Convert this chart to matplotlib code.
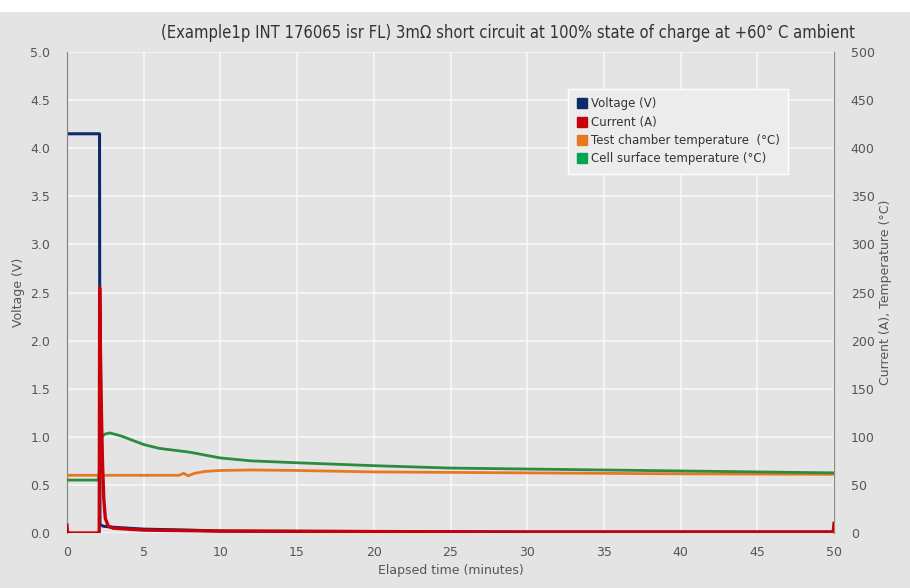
import matplotlib
matplotlib.use("Agg")
import matplotlib.pyplot as plt
from matplotlib.patches import Rectangle
from matplotlib.lines import Line2D

# ---- data ----
volt_t = [0, 2.0, 2.12, 2.15, 2.2, 2.4, 3.0, 4.0, 5.0, 8.0, 10, 20, 30, 40, 50]
volt_v = [4.15, 4.15, 4.15, 0.10, 0.08, 0.07, 0.06, 0.05, 0.04, 0.03, 0.02, 0.015, 0.01, 0.01, 0.01]

curr_t = [0, 0.03, 0.06, 2.1, 2.13, 2.18, 2.25, 2.32, 2.4, 2.5, 2.7, 3.0, 4.0, 5.0, 10, 20, 30, 40, 49.95, 50]
curr_a = [8, 0, 0, 0, 255, 190, 120, 70, 35, 15, 7, 5, 4, 3, 2, 1.5, 1, 1, 1, 10]

cham_t = [0, 7.3, 7.6, 7.9, 8.3, 9, 10, 12, 15, 20, 25, 30, 40, 50]
cham_T = [60, 60, 62, 59.5, 62, 64, 65, 65.5, 65, 63.5, 63, 62.5, 61.5, 61]

cell_t = [0, 2.05, 2.1, 2.15, 2.25, 2.5, 2.8, 3.5, 5, 6, 8, 10, 12, 15, 20, 25, 30, 35, 40, 45, 50]
cell_T = [55, 55, 62, 90, 100, 103, 104, 101, 92, 88, 84, 78, 75, 73, 70, 67.5, 66.5, 65.5, 64.5, 63.5, 62.5]

x_ticks = list(range(0, 55, 5))
left_ticks = [0.0, 0.5, 1.0, 1.5, 2.0, 2.5, 3.0, 3.5, 4.0, 4.5, 5.0]
right_ticks = list(range(0, 550, 50))

title = "(Example1p INT 176065 isr FL) 3m\u03a9 short circuit at 100% state of charge at +60\u00b0 C ambient"

c_volt = "#0d2a6b"
c_curr = "#c8000a"
c_cham = "#e87722"
c_cell = "#2a8c3c"
c_cell_leg = "#00a651"
bg = "#e4e4e4"
tick_c = "#555555"

fig = plt.figure(figsize=(9.1, 5.88), dpi=100, facecolor=bg)
fig.patches.append(Rectangle((0, 588 - 12), 910, 12, transform=None, facecolor="white", edgecolor="none", zorder=0))

ax = fig.add_axes([67/910, 1 - 533/588, (834-67)/910, (533-52)/588])
ax.set_facecolor(bg)
ax2 = ax.twinx()

ax.set_xlim(0, 50)
ax.set_ylim(0, 5)
ax2.set_ylim(0, 500)

ax.set_xticks(x_ticks)
ax.set_yticks(left_ticks)
ax.set_yticklabels([f"{v:.1f}" for v in left_ticks])
ax2.set_yticks(right_ticks)
ax.grid(True, color="#f8f8f8", linewidth=1.3, alpha=0.9)
ax.set_axisbelow(True)

for a in (ax, ax2):
    for s in ("top", "bottom"):
        a.spines[s].set_visible(False)
    a.spines["left"].set_color("#888888")
    a.spines["right"].set_color("#888888")
    a.tick_params(colors=tick_c, labelsize=9, length=0)
ax.tick_params(axis="x", pad=9)
ax.tick_params(axis="y", pad=12)
ax2.tick_params(axis="y", pad=12)

ax.plot(volt_t, volt_v, color=c_volt, lw=2.2, zorder=3)
ax2.plot(curr_t, curr_a, color=c_curr, lw=2.4, zorder=4)
ax2.plot(cham_t, cham_T, color=c_cham, lw=2.0, zorder=3)
ax2.plot(cell_t, cell_T, color=c_cell, lw=2.0, zorder=3)

ax.set_xlabel("Elapsed time (minutes)", color=tick_c, fontsize=9, labelpad=4)
ax.set_ylabel("Voltage (V)", color=tick_c, fontsize=9, labelpad=4)
ax2.set_ylabel("Current (A), Temperature (\u00b0C)", color=tick_c, fontsize=9, labelpad=3)

fig.text(855/910, 1 - 33/588, title, ha="right", va="center", fontsize=11.9, color="#333333",
         family="DejaVu Sans", stretch="condensed")

handles = [Line2D([], [], marker="s", ls="none", color=c, markersize=7)
           for c in (c_volt, c_curr, c_cham, c_cell_leg)]
labels = ["Voltage (V)", "Current (A)", "Test chamber temperature  (\u00b0C)", "Cell surface temperature (\u00b0C)"]
leg = ax2.legend(handles, labels, loc="upper left", bbox_to_anchor=(0.645, 0.935), fontsize=8.5,
                 frameon=True, facecolor="#ececec", edgecolor="white", framealpha=1,
                 handletextpad=0.3, labelspacing=0.45, borderpad=0.7, fancybox=False,
                 handlelength=1.0)
for t in leg.get_texts():
    t.set_color("#333333")

fig.savefig("out.png", dpi=100, facecolor=bg)
